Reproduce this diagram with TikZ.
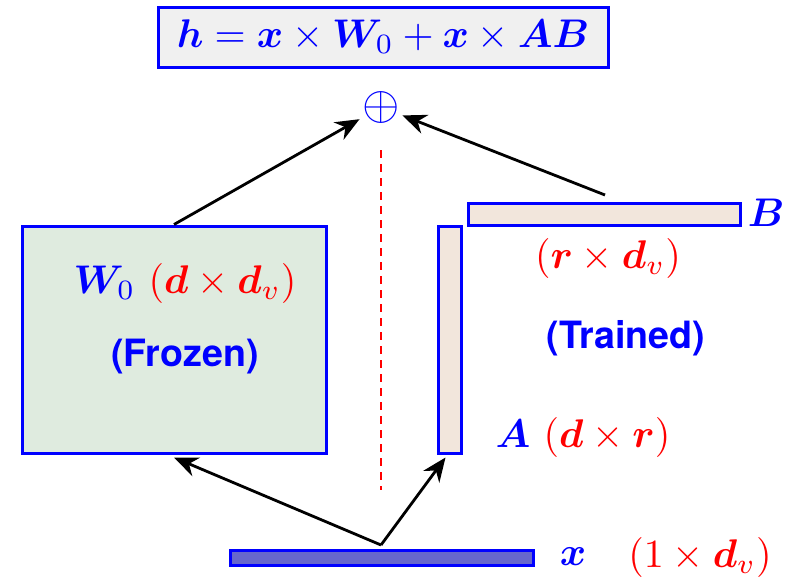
\documentclass[tikz,border=0pt]{standalone}
\usepackage{fontspec}
\usepackage{bm}
\usetikzlibrary{arrows.meta}
\newfontfamily\heros{TeX Gyre Heros}
\definecolor{frozenfill}{RGB}{223,235,223}
\definecolor{trainfill}{RGB}{242,230,220}
\definecolor{eqfill}{RGB}{240,240,240}
\definecolor{xfill}{RGB}{102,102,204}

\begin{document}
\begin{tikzpicture}[x=0.25pt,y=-0.25pt,
    mat/.style={draw=blue,line width=0.75pt,inner sep=0pt},
    arr/.style={-{Stealth[length=6pt,width=5pt]},line width=0.7pt},
    tag/.style={inner sep=0pt,font=\heros\bfseries\fontsize{9.4}{11}\selectfont,text=blue}]
    \useasboundingbox (0,0) rectangle (792,578);

    % equation on top
    \node[mat,fill=eqfill,minimum width=112.5pt,minimum height=15pt] (eq) at (383,37)
        {\fontsize{10.2}{12}\selectfont\color{blue}$\bm{h}=\bm{x}\times\bm{W}_0+\bm{x}\times\bm{AB}$};
    \node[inner sep=0.5pt,text=blue,font=\large] (sum) at (381,107) {$\oplus$};

    % weight matrices
    \node[mat,fill=frozenfill,minimum width=76pt,minimum height=56.75pt] (w0) at (174,339.5) {};
    \node[mat,fill=trainfill,minimum width=5.75pt,minimum height=56.75pt] (a) at (449.5,339.5) {};
    \node[mat,fill=trainfill,minimum width=68pt,minimum height=5.5pt] (b) at (604,214) {};
    \node[mat,fill=xfill,minimum width=75.75pt,minimum height=3.75pt] (x) at (381.5,557.5) {};

    % labels
    \node (w0lab) at (185,283) {$\color{blue}\bm{W}_0$ $\color{red}(\bm{d}\times\bm{d}_v)$};
    \node[tag] (frozen) at (185,357) {(Frozen)};
    \node[tag] (trained) at (626,338) {(Trained)};
    \node[anchor=west,inner sep=0pt] (blab) at (747,213) {$\color{blue}\bm{B}$};
    \node (rlab) at (608,258) {$\color{red}(\bm{r}\times\bm{d}_v)$};
    \node (alab) at (583,437) {$\color{blue}\bm{A}$ $\color{red}(\bm{d}\times\bm{r})$};
    \node (xlab) at (573,557) {$\color{blue}\bm{x}$};
    \node (dlab) at (700,557) {$\color{red}(1\times\bm{d}_v)$};

    % connectors
    \coordinate (split) at (381,545);
    \coordinate (btop) at (605,195);
    \draw[arr] (split) -- ([yshift=-0.75pt]w0.south);
    \draw[arr] (split) -- ([xshift=-1pt,yshift=-0.75pt]a.south);
    \draw[arr] (w0.north) -- (sum);
    \draw[arr] (btop) -- (sum);

    % split line
    \coordinate (dtop) at (381,150);
    \coordinate (dbot) at (381,490);
    \draw[red,line width=0.65pt,dash pattern=on 2pt off 1.5pt] (dtop) -- (dbot);
\end{tikzpicture}
\end{document}
